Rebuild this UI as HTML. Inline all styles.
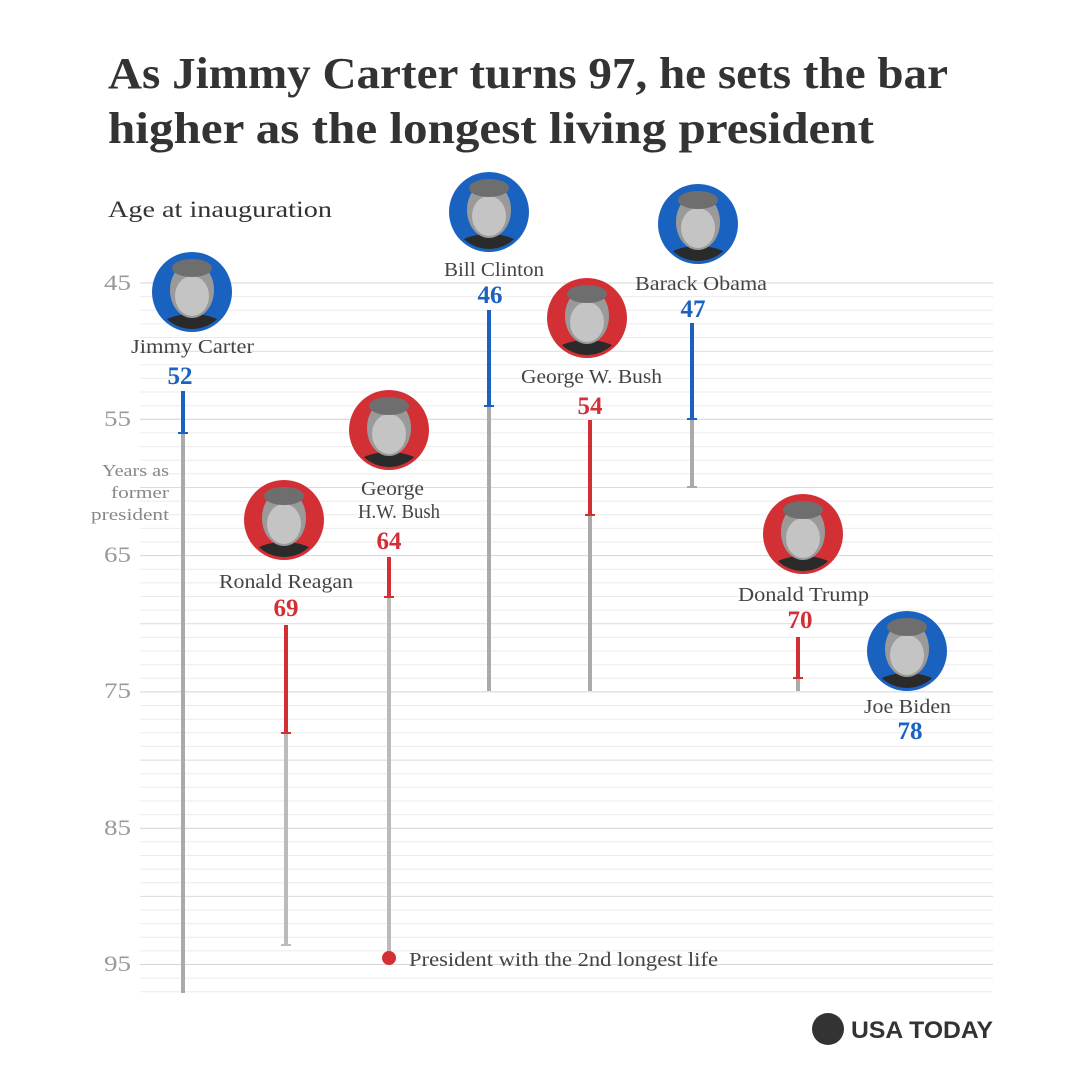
<!DOCTYPE html>
<html><head><meta charset="utf-8"><style>
html,body{margin:0;padding:0;background:#fff;}
svg{display:block;}
text{font-family:"Liberation Serif",serif;}
</style></head><body>
<svg width="1080" height="1080" viewBox="0 0 1080 1080" xmlns="http://www.w3.org/2000/svg">
<defs>
<clipPath id="c1"><circle cx="0" cy="0" r="37"/></clipPath>
<g id="face">
 <g clip-path="url(#c1)">
  <ellipse cx="0" cy="38" rx="34" ry="16" fill="#2a2a2a"/>
  <ellipse cx="0" cy="-2" rx="22" ry="28" fill="#9a9a9a"/>
  <ellipse cx="0" cy="4" rx="17" ry="20" fill="#c4c4c4"/>
  <ellipse cx="0" cy="-24" rx="20" ry="9" fill="#6e6e6e"/>
 </g>
</g>
</defs>
<rect width="1080" height="1080" fill="#fff"/>
<text x="108" y="88" font-size="44" font-weight="bold" fill="#333" textLength="840" lengthAdjust="spacingAndGlyphs">As Jimmy Carter turns 97, he sets the bar</text>
<text x="108" y="143" font-size="44" font-weight="bold" fill="#333" textLength="766" lengthAdjust="spacingAndGlyphs">higher as the longest living president</text>
<text x="108" y="217" font-size="23" fill="#333" textLength="224" lengthAdjust="spacingAndGlyphs">Age at inauguration</text>
<g stroke="#ebebeb">
<line x1="140" x2="993" y1="283" y2="283" stroke="#d4d4d4"/>
<line x1="140" x2="993" y1="296.6" y2="296.6"/><line x1="140" x2="993" y1="310.3" y2="310.3"/><line x1="140" x2="993" y1="323.9" y2="323.9"/><line x1="140" x2="993" y1="337.5" y2="337.5"/>
<line x1="140" x2="993" y1="351.2" y2="351.2" stroke="#dcdcdc"/>
<line x1="140" x2="993" y1="364.8" y2="364.8"/><line x1="140" x2="993" y1="378.4" y2="378.4"/><line x1="140" x2="993" y1="392" y2="392"/><line x1="140" x2="993" y1="405.7" y2="405.7"/>
<line x1="140" x2="993" y1="419.3" y2="419.3" stroke="#d4d4d4"/>
<line x1="140" x2="993" y1="432.9" y2="432.9"/><line x1="140" x2="993" y1="446.6" y2="446.6"/><line x1="140" x2="993" y1="460.2" y2="460.2"/><line x1="140" x2="993" y1="473.8" y2="473.8"/>
<line x1="140" x2="993" y1="487.5" y2="487.5" stroke="#dcdcdc"/>
<line x1="140" x2="993" y1="501.1" y2="501.1"/><line x1="140" x2="993" y1="514.7" y2="514.7"/><line x1="140" x2="993" y1="528.4" y2="528.4"/><line x1="140" x2="993" y1="542" y2="542"/>
<line x1="140" x2="993" y1="555.6" y2="555.6" stroke="#d4d4d4"/>
<line x1="140" x2="993" y1="569.2" y2="569.2"/><line x1="140" x2="993" y1="582.9" y2="582.9"/><line x1="140" x2="993" y1="596.5" y2="596.5"/><line x1="140" x2="993" y1="610.1" y2="610.1"/>
<line x1="140" x2="993" y1="623.8" y2="623.8" stroke="#dcdcdc"/>
<line x1="140" x2="993" y1="637.4" y2="637.4"/><line x1="140" x2="993" y1="651" y2="651"/><line x1="140" x2="993" y1="664.7" y2="664.7"/><line x1="140" x2="993" y1="678.3" y2="678.3"/>
<line x1="140" x2="993" y1="691.9" y2="691.9" stroke="#d4d4d4"/>
<line x1="140" x2="993" y1="705.5" y2="705.5"/><line x1="140" x2="993" y1="719.2" y2="719.2"/><line x1="140" x2="993" y1="732.8" y2="732.8"/><line x1="140" x2="993" y1="746.4" y2="746.4"/>
<line x1="140" x2="993" y1="760.1" y2="760.1" stroke="#dcdcdc"/>
<line x1="140" x2="993" y1="773.7" y2="773.7"/><line x1="140" x2="993" y1="787.3" y2="787.3"/><line x1="140" x2="993" y1="801" y2="801"/><line x1="140" x2="993" y1="814.6" y2="814.6"/>
<line x1="140" x2="993" y1="828.2" y2="828.2" stroke="#d4d4d4"/>
<line x1="140" x2="993" y1="841.8" y2="841.8"/><line x1="140" x2="993" y1="855.5" y2="855.5"/><line x1="140" x2="993" y1="869.1" y2="869.1"/><line x1="140" x2="993" y1="882.7" y2="882.7"/>
<line x1="140" x2="993" y1="896.4" y2="896.4" stroke="#dcdcdc"/>
<line x1="140" x2="993" y1="910" y2="910"/><line x1="140" x2="993" y1="923.6" y2="923.6"/><line x1="140" x2="993" y1="937.3" y2="937.3"/><line x1="140" x2="993" y1="950.9" y2="950.9"/>
<line x1="140" x2="993" y1="964.5" y2="964.5" stroke="#d4d4d4"/>
<line x1="140" x2="993" y1="978.1" y2="978.1"/><line x1="140" x2="993" y1="991.8" y2="991.8"/>
</g>
<g font-size="22" fill="#999" text-anchor="end">
<text x="131" y="290" textLength="27" lengthAdjust="spacingAndGlyphs">45</text><text x="131" y="426" textLength="27" lengthAdjust="spacingAndGlyphs">55</text><text x="131" y="562" textLength="27" lengthAdjust="spacingAndGlyphs">65</text>
<text x="131" y="698" textLength="27" lengthAdjust="spacingAndGlyphs">75</text><text x="131" y="835" textLength="27" lengthAdjust="spacingAndGlyphs">85</text><text x="131" y="971" textLength="27" lengthAdjust="spacingAndGlyphs">95</text>
</g>
<g font-size="17" fill="#888">
<text x="102" y="476" textLength="67" lengthAdjust="spacingAndGlyphs">Years as</text><text x="111" y="498" textLength="58" lengthAdjust="spacingAndGlyphs">former</text><text x="91" y="520" textLength="78" lengthAdjust="spacingAndGlyphs">president</text>
</g>
<g stroke-width="4">
<line x1="183" x2="183" y1="433" y2="993" stroke="#aaa"/>
<line x1="183" x2="183" y1="391" y2="433" stroke="#1a62c0"/><line x1="178" x2="188" y1="433" y2="433" stroke="#1a62c0" stroke-width="2"/>
<line x1="286" x2="286" y1="733" y2="945" stroke="#bbb"/><line x1="281" x2="291" y1="945" y2="945" stroke="#bbb" stroke-width="2"/>
<line x1="286" x2="286" y1="625" y2="733" stroke="#d23035"/><line x1="281" x2="291" y1="733" y2="733" stroke="#d23035" stroke-width="2"/>
<line x1="389" x2="389" y1="597" y2="958" stroke="#bbb"/>
<line x1="389" x2="389" y1="557" y2="597" stroke="#d23035"/><line x1="384" x2="394" y1="597" y2="597" stroke="#d23035" stroke-width="2"/>
<line x1="489" x2="489" y1="406" y2="691" stroke="#aaa"/>
<line x1="489" x2="489" y1="310" y2="406" stroke="#1a62c0"/><line x1="484" x2="494" y1="406" y2="406" stroke="#1a62c0" stroke-width="2"/>
<line x1="590" x2="590" y1="515" y2="691" stroke="#aaa"/>
<line x1="590" x2="590" y1="420" y2="515" stroke="#d23035"/><line x1="585" x2="595" y1="515" y2="515" stroke="#d23035" stroke-width="2"/>
<line x1="692" x2="692" y1="419" y2="487" stroke="#aaa"/><line x1="687" x2="697" y1="487" y2="487" stroke="#aaa" stroke-width="2"/>
<line x1="692" x2="692" y1="323" y2="419" stroke="#1a62c0"/><line x1="687" x2="697" y1="419" y2="419" stroke="#1a62c0" stroke-width="2"/>
<line x1="798" x2="798" y1="678" y2="691" stroke="#aaa"/>
<line x1="798" x2="798" y1="637" y2="678" stroke="#d23035"/><line x1="793" x2="803" y1="678" y2="678" stroke="#d23035" stroke-width="2"/>
</g>
<circle cx="389" cy="958" r="7" fill="#d23035"/>
<text x="409" y="966" font-size="20" fill="#444" textLength="309" lengthAdjust="spacingAndGlyphs">President with the 2nd longest life</text>
<circle cx="192" cy="292" r="40" fill="#1a62c0"/><use href="#face" x="192" y="292"/>
<circle cx="489" cy="212" r="40" fill="#1a62c0"/><use href="#face" x="489" y="212"/>
<circle cx="587" cy="318" r="40" fill="#d23035"/><use href="#face" x="587" y="318"/>
<circle cx="698" cy="224" r="40" fill="#1a62c0"/><use href="#face" x="698" y="224"/>
<circle cx="389" cy="430" r="40" fill="#d23035"/><use href="#face" x="389" y="430"/>
<circle cx="284" cy="520" r="40" fill="#d23035"/><use href="#face" x="284" y="520"/>
<circle cx="803" cy="534" r="40" fill="#d23035"/><use href="#face" x="803" y="534"/>
<circle cx="907" cy="651" r="40" fill="#1a62c0"/><use href="#face" x="907" y="651"/>
<g font-size="20" fill="#444">
<text x="131" y="353" textLength="123" lengthAdjust="spacingAndGlyphs">Jimmy Carter</text>
<text x="444" y="276" textLength="100" lengthAdjust="spacingAndGlyphs">Bill Clinton</text>
<text x="521" y="383" textLength="141" lengthAdjust="spacingAndGlyphs">George W. Bush</text>
<text x="635" y="290" textLength="132" lengthAdjust="spacingAndGlyphs">Barack Obama</text>
<text x="361" y="495" textLength="63" lengthAdjust="spacingAndGlyphs">George</text><text x="358" y="518" textLength="82" lengthAdjust="spacingAndGlyphs">H.W. Bush</text>
<text x="219" y="588" textLength="134" lengthAdjust="spacingAndGlyphs">Ronald Reagan</text>
<text x="738" y="601" textLength="131" lengthAdjust="spacingAndGlyphs">Donald Trump</text>
<text x="864" y="713" textLength="87" lengthAdjust="spacingAndGlyphs">Joe Biden</text>
</g>
<g font-size="25" font-weight="bold" text-anchor="middle">
<text x="180" y="384" fill="#1a62c0">52</text>
<text x="490" y="303" fill="#1a62c0">46</text>
<text x="590" y="414" fill="#d23035">54</text>
<text x="693" y="317" fill="#1a62c0">47</text>
<text x="389" y="549" fill="#d23035">64</text>
<text x="286" y="616" fill="#d23035">69</text>
<text x="800" y="628" fill="#d23035">70</text>
<text x="910" y="739" fill="#1a62c0">78</text>
</g>
<circle cx="828" cy="1029" r="16" fill="#333"/>
<text x="851" y="1038" font-size="24" font-weight="bold" fill="#333" textLength="142" lengthAdjust="spacingAndGlyphs" style="font-family:'Liberation Sans',sans-serif">USA TODAY</text>
</svg>
</body></html>
